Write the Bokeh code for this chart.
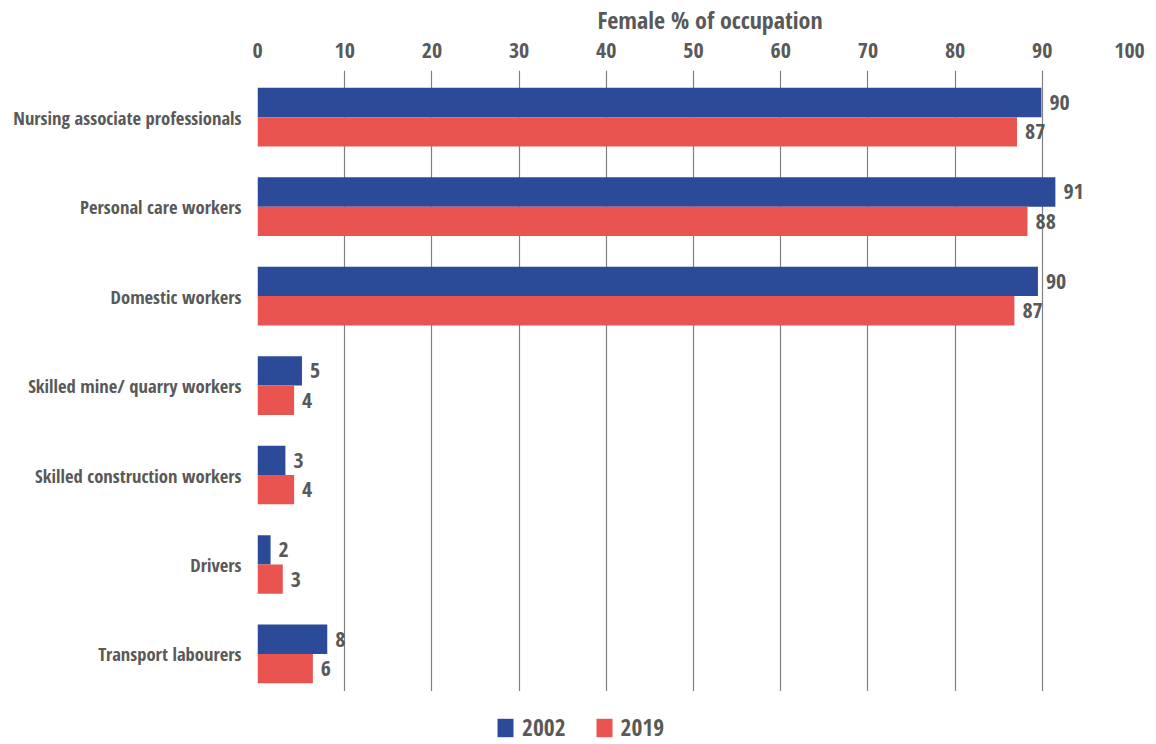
from bokeh.plotting import figure
from bokeh.embed import file_html
from bokeh.resources import INLINE
from bokeh.core.properties import value
from bokeh.layouts import column
from bokeh.models import ColumnDataSource, FixedTicker, Legend, LegendItem, Title

categories = ["Nursing associate professionals", "Personal care workers", "Domestic workers",
              "Skilled mine/ quarry workers", "Skilled construction workers", "Drivers",
              "Transport labourers"]
values_2002 = [89.9, 91.5, 89.5, 5.1, 3.2, 1.5, 8.0]
values_2019 = [87.1, 88.3, 86.8, 4.2, 4.2, 2.9, 6.35]
labels_2002 = ["90", "91", "90", "5", "3", "2", "8"]
labels_2019 = ["87", "88", "87", "4", "4", "3", "6"]
series_names = ["2002", "2019"]
x_ticks = [0, 10, 20, 30, 40, 50, 60, 70, 80, 90, 100]

BLUE = "#2B4A98"
RED = "#E95350"
GREY = "#595959"
FONT = "Open Sans Condensed"

n = len(categories)
ypos = [n - 1 - i for i in range(n)]
bh = 0.328

src02 = ColumnDataSource(dict(y=[y + bh / 2 for y in ypos], v=values_2002, lab=labels_2002))
src19 = ColumnDataSource(dict(y=[y - bh / 2 for y in ypos], v=values_2019, lab=labels_2019))

p = figure(frame_width=872, frame_height=621, output_backend="svg", toolbar_location=None,
           x_range=(0, 100), y_range=(-0.42, n - 1 + 0.522),
           x_axis_location="above",
           min_border_left=257, min_border_right=27, min_border_top=70, min_border_bottom=0)
p.outline_line_color = None
p.background_fill_color = "white"
p.border_fill_color = "white"

p.hbar(y="y", right="v", left=0, height=bh, source=src02, fill_color=BLUE, line_color=None)
p.hbar(y="y", right="v", left=0, height=bh, source=src19, fill_color=RED, line_color=None)

for src in (src02, src19):
    p.text(x="v", y="y", text="lab", source=src, x_offset=8, text_align="left",
           text_baseline="middle", text_font=value(FONT), text_font_style="bold",
           text_font_size="22px", text_color=GREY)

# x axis (top)
xa = p.xaxis[0]
xa.ticker = FixedTicker(ticks=x_ticks)
xa.axis_line_color = None
xa.major_tick_line_color = None
xa.minor_tick_line_color = None
xa.major_tick_out = 0
xa.major_label_text_font = FONT
xa.major_label_text_font_style = "bold"
xa.major_label_text_font_size = "22px"
xa.major_label_text_color = GREY
xa.major_label_standoff = 13

# y axis
ya = p.yaxis[0]
ya.ticker = FixedTicker(ticks=ypos)
ya.major_label_overrides = {y: c for y, c in zip(ypos, categories)}
ya.axis_line_color = None
ya.major_tick_line_color = None
ya.minor_tick_line_color = None
ya.major_tick_out = 0
ya.major_label_text_font = FONT
ya.major_label_text_font_style = "bold"
ya.major_label_text_font_size = "18.6px"
ya.major_label_text_color = GREY
ya.major_label_standoff = 16

p.ygrid.grid_line_color = None
p.xgrid.ticker = FixedTicker(ticks=x_ticks)
p.xgrid.grid_line_color = "#808080"
p.xgrid.grid_line_width = 1.2

p.title = Title(text="Female % of occupation", align="left", offset=340,
                text_font=FONT, text_font_style="bold", text_font_size="24px",
                text_color=GREY, standoff=7)

# legend strip below the chart
lg = figure(width=1156, height=53, output_backend="svg", toolbar_location=None,
            x_range=(0, 1), y_range=(0, 1), min_border=0)
lg.axis.visible = False
lg.grid.visible = False
lg.outline_line_color = None
# key swatches only (placed outside the visible range; the legend draws them)
keysrc = ColumnDataSource(dict(x=[-5], y=[-5]))
lr02 = lg.rect(x="x", y="y", width=1, height=1, source=keysrc, fill_color=BLUE, line_color=None)
lr19 = lg.rect(x="x", y="y", width=1, height=1, source=keysrc, fill_color=RED, line_color=None)
legend = Legend(items=[LegendItem(label=series_names[0], renderers=[lr02]),
                       LegendItem(label=series_names[1], renderers=[lr19])],
                orientation="horizontal", location=(238, 1),
                label_text_font=FONT, label_text_font_style="bold",
                label_text_font_size="23.5px", label_text_color=GREY,
                glyph_width=20, glyph_height=23, label_standoff=7, spacing=28,
                border_line_color=None, background_fill_alpha=0,
                padding=0, margin=0)
lg.add_layout(legend, "center")

layout = column(p, lg, spacing=0, margin=(-3, 0, 0, 0))
open("out.html", "w").write(file_html(layout, INLINE))
